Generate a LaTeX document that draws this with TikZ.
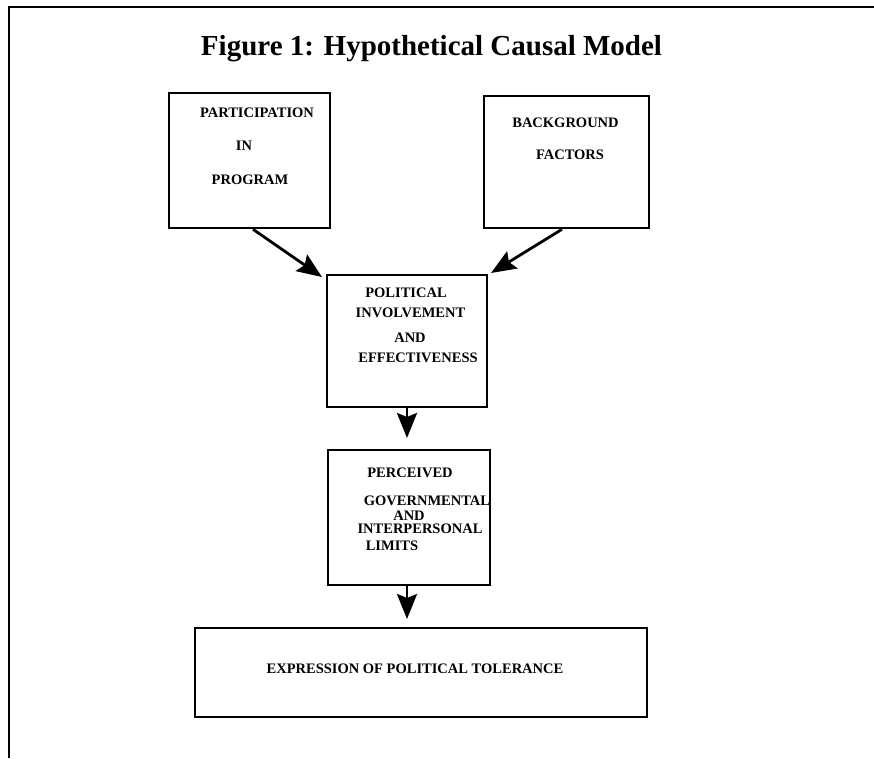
\documentclass[tikz,border=0pt]{standalone}
\usepackage{fontspec}
\setmainfont{Liberation Serif}
\usetikzlibrary{arrows.meta,calc}
\begin{document}
\begin{tikzpicture}[x=1pt,y=-1pt,
  box/.style={draw, line width=2.6pt, inner sep=0pt},
  lbl/.style={font=\fontsize{14.5}{16}\selectfont\bfseries, inner sep=0pt, anchor=center},
  arr/.style={line width=2.8pt, -{Stealth[length=25pt,width=20pt,inset=4pt]}},
  frame/.style={line width=2.6pt}]
\useasboundingbox (0,0) rectangle (874,758);
% frame
\coordinate (fbl) at (9,758);
\coordinate (ftl) at (9,7);
\coordinate (ftr) at (874,7);
\draw[frame] (fbl) -- (ftl) -- (ftr);
% title
\node[font=\fontsize{29}{33}\selectfont\bfseries, inner sep=0pt, anchor=base] (title) at (431.5,55) {Figure 1: Hypothetical Causal Model};
% boxes
\node[box, minimum width=161pt, minimum height=135pt] (b1) at (249.5,160.5) {};
\node[box, minimum width=165pt, minimum height=132pt] (b2) at (566.5,162) {};
\node[box, minimum width=160pt, minimum height=132pt] (b3) at (407,341) {};
\node[box, minimum width=162pt, minimum height=135pt] (b4) at (409,517.5) {};
\node[box, minimum width=452pt, minimum height=89pt] (b5) at (421,672.5) {};
% labels
\node[lbl] (t11) at (257,113) {PARTICIPATION};
\node[lbl] (t12) at (244,146) {IN};
\node[lbl] (t13) at (250,180) {PROGRAM};
\node[lbl] (t21) at (565.5,123) {BACKGROUND};
\node[lbl] (t22) at (570,155) {FACTORS};
\node[lbl] (t31) at (406,293) {POLITICAL};
\node[lbl] (t32) at (410.5,313) {INVOLVEMENT};
\node[lbl] (t33) at (410,338) {AND};
\node[lbl] (t34) at (418,358) {EFFECTIVENESS};
\node[lbl] (t41) at (410,473) {PERCEIVED};
\node[lbl] (t42) at (427,501) {GOVERNMENTAL};
\node[lbl] (t43) at (409,516) {AND};
\node[lbl] (t44) at (420,529) {INTERPERSONAL};
\node[lbl] (t45) at (392,546) {LIMITS};
\node[lbl] (t51) at (415,669) {EXPRESSION OF POLITICAL TOLERANCE};
% arrow tips
\coordinate (e1) at (322,277);
\coordinate (e2) at (491,273);
\coordinate (e3) at (407,438);
\coordinate (e4) at (407,619);
\draw[arr] ($(b1.south)+(3.5,0)$) -- (e1);
\draw[arr] ($(b2.south)+(-4.5,0)$) -- (e2);
\draw[arr] (b3.south) -- (e3);
\draw[arr] ($(b4.south)+(-2,0)$) -- (e4);
\end{tikzpicture}
\end{document}
